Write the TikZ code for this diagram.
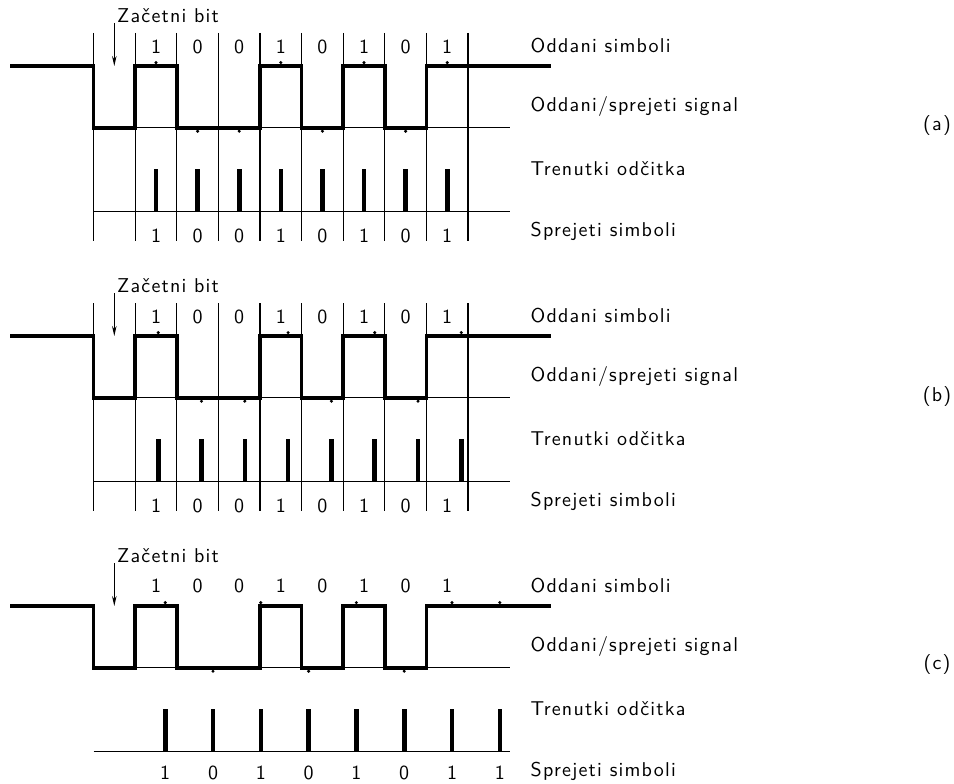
\documentclass[tikz,border=0pt]{standalone}
\usepackage{fontspec}
\usetikzlibrary{arrows.meta}
\newfontfamily\lblfont{lmsans10-regular.otf}[LetterSpace=6]

% bit cell grid: first edge and cell width
\def\xo{93.6}
\def\cw{41.6}
\def\hi{66}
\def\lo{127.8}

\tikzset{
  lbl/.style={font=\lblfont\fontsize{20}{23}\selectfont, inner sep=0pt},
  rlbl/.style={lbl, anchor=west},
  sig/.style={line width=3.6pt, line join=miter},
  thinline/.style={line width=1.1pt},
  bar/.style={line width=4.6pt},
  dotmark/.style={fill=black},
  startarrow/.style={line width=1.1pt, -{Stealth[length=10pt,width=4.5pt]}}
}

% transmitted waveform: idle high, start bit low, then 1 0 0 1 0 1 0 1, idle high
\newcommand\txwave{%
  \draw[sig] (10,\hi) -- (93.6,\hi) |- (135.2,\lo) |- (176.8,\hi) |- (259.9,\lo)
    |- (301.5,\hi) |- (343.1,\lo) |- (384.7,\hi) |- (426.3,\lo) |- (551,\hi);}

% labels on the right of each panel
\newcommand\sidelabels[1]{%
  \node[rlbl] (#1tx)  at (530.5,46)  {Oddani simboli};
  \node[rlbl] (#1sig) at (530.5,106) {Oddani/sprejeti signal};
  \node[rlbl] (#1smp) at (530.5,169) {Trenutki odčitka};
  \node[rlbl] (#1rx)  at (530.5,231) {Sprejeti simboli};}

% start bit caption and arrow
\newcommand\startbit[1]{%
  \node[lbl, anchor=west] (#1start) at (117,16) {Začetni bit};
  \coordinate (#1tip) at (114.3,66);
  \draw[startarrow] (114.3,23) -- (#1tip);}

\begin{document}
\begin{tikzpicture}[x=1pt,y=-1pt]
\useasboundingbox (0,0) rectangle (954,784);

% ---------------- (a) sampling in the middle of each bit ----------------
\begin{scope}
  \foreach \i in {0,...,9}
    \draw[thinline] ({\xo+\i*\cw},33) -- ({\xo+\i*\cw},241);
  \draw[thinline] (\xo,\lo) -- (510,\lo);
  \draw[thinline] (\xo,211.7) -- (510,211.7);
  \txwave
  \foreach \b [count=\k from 0] in {1,0,0,1,0,1,0,1}{
    \pgfmathsetmacro\xs{\xo+(\k+1.5)*\cw}
    \node[lbl] (at\k) at (\xs,47) {\b};
    \node[lbl] (ar\k) at (\xs,236) {\b};
    \draw[bar] (\xs,169) -- (\xs,211.7);
    \ifnum\b=1 \fill[dotmark] (\xs,62.6) circle (1.7);
    \else \fill[dotmark] (\xs,131.2) circle (1.7); \fi
  }
  \sidelabels{a}
  \startbit{a}
  \node[lbl] (lab-a) at (937,126) {(a)};
\end{scope}

% ---------------- (b) receiver clock slightly slow ----------------
\begin{scope}[yshift=-270pt]
  \foreach \i in {0,...,9}
    \draw[thinline] ({\xo+\i*\cw},33) -- ({\xo+\i*\cw},241);
  \draw[thinline] (\xo,\lo) -- (510,\lo);
  \draw[thinline] (\xo,211.7) -- (510,211.7);
  \txwave
  \foreach \b [count=\k from 0] in {1,0,0,1,0,1,0,1}{
    \pgfmathsetmacro\xc{\xo+(\k+1.5)*\cw}
    \pgfmathsetmacro\xs{158.2+\k*43.3}
    \node[lbl] (bt\k) at (\xc,47) {\b};
    \node[lbl] (br\k) at (\xc,236) {\b};
    \draw[bar] (\xs,169) -- (\xs,211.7);
    \ifnum\b=1 \fill[dotmark] (\xs,62.6) circle (1.7);
    \else \fill[dotmark] (\xs,131.2) circle (1.7); \fi
  }
  \sidelabels{b}
  \startbit{b}
  \node[lbl] (lab-b) at (937,126) {(b)};
\end{scope}

% ---------------- (c) receiver clock much too slow ----------------
\begin{scope}[yshift=-540pt]
  \draw[thinline] (\xo,\lo) -- (510,\lo);
  \draw[thinline] (\xo,211.7) -- (510,211.7);
  \txwave
  \foreach \b [count=\k from 0] in {1,0,0,1,0,1,0,1}{
    \pgfmathsetmacro\xc{\xo+(\k+1.5)*\cw}
    \node[lbl] (ct\k) at (\xc,46) {\b};
  }
  \foreach \r/\lev [count=\k from 0] in {1/h,0/l,1/h,0/l,1/h,0/l,1/h,1/h}{
    \pgfmathsetmacro\xs{165.2+\k*47.8}
    \node[lbl] (cr\k) at (\xs,233) {\r};
    \draw[bar] (\xs,169) -- (\xs,211.7);
    \if\lev h\fill[dotmark] (\xs,62.6) circle (1.7);
    \else \fill[dotmark] (\xs,131.2) circle (1.7); \fi
  }
  \sidelabels{c}
  \startbit{c}
  \node[lbl] (lab-c) at (937,124) {(c)};
\end{scope}
\end{tikzpicture}
\end{document}
